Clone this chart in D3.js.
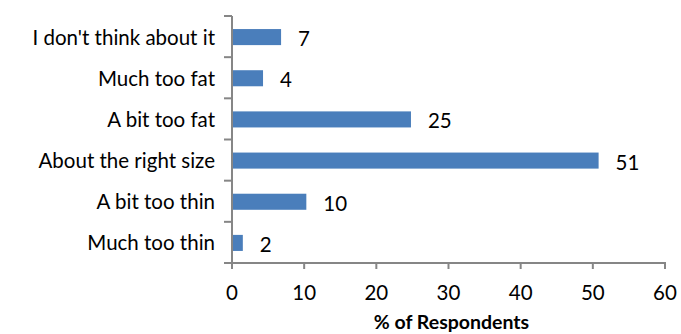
<!DOCTYPE html>
<html>
<head>
<meta charset="utf-8">
<script src="https://cdn.jsdelivr.net/npm/d3@7"></script>
<style>
  html, body { margin: 0; padding: 0; background: #fff; }
  svg { display: block; }
  text { font-family: Lato, "Open Sans", sans-serif; fill: #000; }
</style>
</head>
<body>
<svg id="chart" width="681" height="334"></svg>
<script>
const categories = ["I don't think about it", "Much too fat", "A bit too fat", "About the right size", "A bit too thin", "Much too thin"];
const values = [6.8, 4.3, 24.8, 50.8, 10.3, 1.5];
const valueLabels = ["7", "4", "25", "51", "10", "2"];
const xTicks = [0, 10, 20, 30, 40, 50, 60];
const xTitle = "% of Respondents";

(function () {
const svg = d3.select("#chart");
const mLeft = 232, mRight = 665, mTop = 16, mBottom = 263;
const axisColor = "#868686";
const fontSize = 20.5;

const x = d3.scaleLinear().domain([0, 60]).range([mLeft, mRight]);
const y = d3.scaleBand().domain(categories).range([mTop, mBottom]).paddingInner(0.61).paddingOuter(0.305);

const data = categories.map((c, i) => ({c, v: values[i], l: valueLabels[i]}));

// bars
svg.append("g").selectAll("rect").data(data).join("rect")
  .attr("x", x(0))
  .attr("y", d => y(d.c) + 0.5)
  .attr("width", d => x(d.v) - x(0))
  .attr("height", y.bandwidth())
  .attr("fill", "#4A7EBB");

// value labels
svg.append("g").selectAll("text").data(data).join("text")
  .attr("x", d => x(d.v) + 17)
  .attr("y", d => y(d.c) + y.bandwidth() / 2 + 9.5)
  .attr("font-size", fontSize)
  .text(d => d.l);

// y axis
const yAxis = svg.append("g").attr("transform", `translate(${mLeft},0)`);
yAxis.append("line").attr("x1", 0).attr("x2", 0).attr("y1", mTop).attr("y2", mBottom)
  .attr("stroke", axisColor).attr("stroke-width", 2);
const yStep = y.step();
const yTickPos = d3.range(categories.length + 1).map(i => mTop + i * yStep);
yAxis.selectAll("line.tick").data(yTickPos).join("line").attr("class", "tick")
  .attr("x1", -8).attr("x2", 0).attr("y1", d => d).attr("y2", d => d)
  .attr("stroke", axisColor).attr("stroke-width", 2);
yAxis.selectAll("text").data(categories).join("text")
  .attr("x", -17)
  .attr("y", d => y(d) + y.bandwidth() / 2 + 8)
  .attr("text-anchor", "end")
  .attr("font-size", fontSize)
  .text(d => d);

// x axis
const xAxis = svg.append("g").attr("transform", `translate(0,${mBottom})`);
xAxis.append("line").attr("x1", mLeft - 1).attr("x2", mRight + 1).attr("y1", 0).attr("y2", 0)
  .attr("stroke", axisColor).attr("stroke-width", 2);
xAxis.selectAll("line.tick").data(xTicks).join("line").attr("class", "tick")
  .attr("x1", d => x(d)).attr("x2", d => x(d)).attr("y1", 0).attr("y2", 6)
  .attr("stroke", axisColor).attr("stroke-width", 2);
xAxis.selectAll("text").data(xTicks).join("text")
  .attr("x", d => x(d))
  .attr("y", 36.5)
  .attr("text-anchor", "middle")
  .attr("font-size", fontSize)
  .text(d => d);

svg.append("text")
  .attr("x", (mLeft + mRight) / 2 + 3)
  .attr("y", 329)
  .attr("text-anchor", "middle")
  .attr("font-size", 19.5)
  .attr("font-weight", "bold")
  .text(xTitle);
})();
</script>
</body>
</html>
